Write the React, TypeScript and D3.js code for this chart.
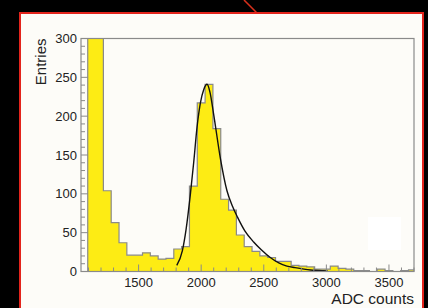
import React from 'react';
import * as d3 from 'd3';

// histogram: ADC spectrum, fixed-width bins
const binStart = 1093.75;
const binWidth = 62.5;
const counts = [
  420, 380, 104, 63, 37, 21, 21, 24, 20, 16, 17, 29, 32, 110, 217, 241, 184, 93, 79, 47, 32,
  26, 20, 18, 13, 13, 8, 7, 6, 3, 3, 7, 4, 3, 1, 1, 0, 3, 1, 0, 1, 2,
];

// fitted curve
const fitX = [1805, 1850, 1880, 1914, 1940, 1967, 1995, 2020, 2047, 2070, 2100, 2153, 2206, 2250, 2290, 2350, 2419, 2480, 2552, 2620, 2685, 2750, 2873, 2977, 3010];
const fitY = [8, 27, 55, 100, 140, 186, 218, 234, 241, 231, 202, 146, 104, 84, 70, 52, 38, 28, 18, 11, 7, 5, 2, 1, 0.8];

const yTicks = [0, 50, 100, 150, 200, 250, 300];
const xTicks = [1500, 2000, 2500, 3000, 3500];

const FONT = 'Liberation Sans, Arial, Helvetica, sans-serif';

export default function App() {
  const W = 428;
  const H = 308;
  const frame = { left: 81, right: 414, top: 38.5, bottom: 271.5 };

  const x = d3.scaleLinear().domain([1040, 3700]).range([frame.left, frame.right]);
  const y = d3.scaleLinear().domain([0, 300]).range([frame.bottom, frame.top]);

  const edges = counts.map((_, i) => binStart + i * binWidth);
  const lastEdge = binStart + counts.length * binWidth;
  const steps: [number, number][] = [[binStart, 0]];
  counts.forEach((c, i) => steps.push([edges[i], c]));
  steps.push([lastEdge, counts[counts.length - 1]]);
  steps.push([lastEdge, 0]);

  const area = d3
    .area<[number, number]>()
    .x(d => x(d[0]))
    .y0(y(0))
    .y1(d => y(d[1]))
    .curve(d3.curveStepAfter);
  const outline = d3
    .line<[number, number]>()
    .x(d => x(d[0]))
    .y(d => y(d[1]))
    .curve(d3.curveStepAfter);

  const fitLine = d3
    .line<number>()
    .x((_, i) => x(fitX[i]))
    .y(d => y(d))
    .curve(d3.curveMonotoneX);

  const xMinor = d3.range(1100, 3701, 100);
  const yMinor = d3.range(0, 301, 10);

  return (
    <div style={{ position: 'fixed', left: 0, top: 0, width: W, height: H }}>
      <svg width={W} height={H} style={{ display: 'block' }}>
        <defs>
          <clipPath id="frameClip">
            <rect x={frame.left} y={frame.top} width={frame.right - frame.left} height={frame.bottom - frame.top} />
          </clipPath>
        </defs>
        <rect width={W} height={H} fill="#000" />
        <line x1={244} y1={0} x2={257} y2={13} stroke="#d8301c" strokeWidth={1.5} />
        <rect x={20} y={13} width={403} height={H + 10} fill="#fdfcf8" stroke="#e3241c" strokeWidth={2} />
        <rect x={368} y={217} width={33} height={33} fill="#ffffff" />

        <g clipPath="url(#frameClip)">
          <path d={area(steps) || ''} fill="#fdec14" />
          <path d={outline(steps) || ''} fill="none" stroke="#8a8a8a" strokeWidth={1.2} />
          <path d={fitLine(fitY) || ''} fill="none" stroke="#111" strokeWidth={1.4} />
        </g>

        <rect
          x={frame.left}
          y={frame.top}
          width={frame.right - frame.left}
          height={frame.bottom - frame.top}
          fill="none"
          stroke="#8a8a8a"
          strokeWidth={1.2}
        />

        {/* y axis ticks */}
        {yMinor.map(v => (
          <line key={'ym' + v} x1={frame.left} x2={frame.left + (v % 50 === 0 ? 7 : 4)} y1={y(v)} y2={y(v)} stroke="#8a8a8a" strokeWidth={1} />
        ))}
        {yTicks.map(v => (
          <text key={'yl' + v} x={77} y={y(v)} dy="0.35em" textAnchor="end" fontFamily={FONT} fontSize={13} fill="#222">
            {v}
          </text>
        ))}

        {/* x axis ticks */}
        {xMinor.map(v => (
          <line key={'xm' + v} x1={x(v)} x2={x(v)} y1={frame.bottom} y2={frame.bottom - (v % 500 === 0 ? 7 : 4)} stroke="#8a8a8a" strokeWidth={1} />
        ))}
        {xTicks.map(v => (
          <text key={'xl' + v} x={x(v)} y={282} dy="0.35em" textAnchor="middle" fontFamily={FONT} fontSize={13} fill="#222">
            {v}
          </text>
        ))}

        <text x={frame.right} y={299} dy="0.35em" textAnchor="end" fontFamily={FONT} fontSize={15.5} fill="#222">
          ADC counts
        </text>
        <text
          transform={`translate(46,${frame.top}) rotate(-90)`}
          textAnchor="end"
          fontFamily={FONT}
          fontSize={15}
          fill="#222"
        >
          Entries
        </text>
      </svg>
    </div>
  );
}
